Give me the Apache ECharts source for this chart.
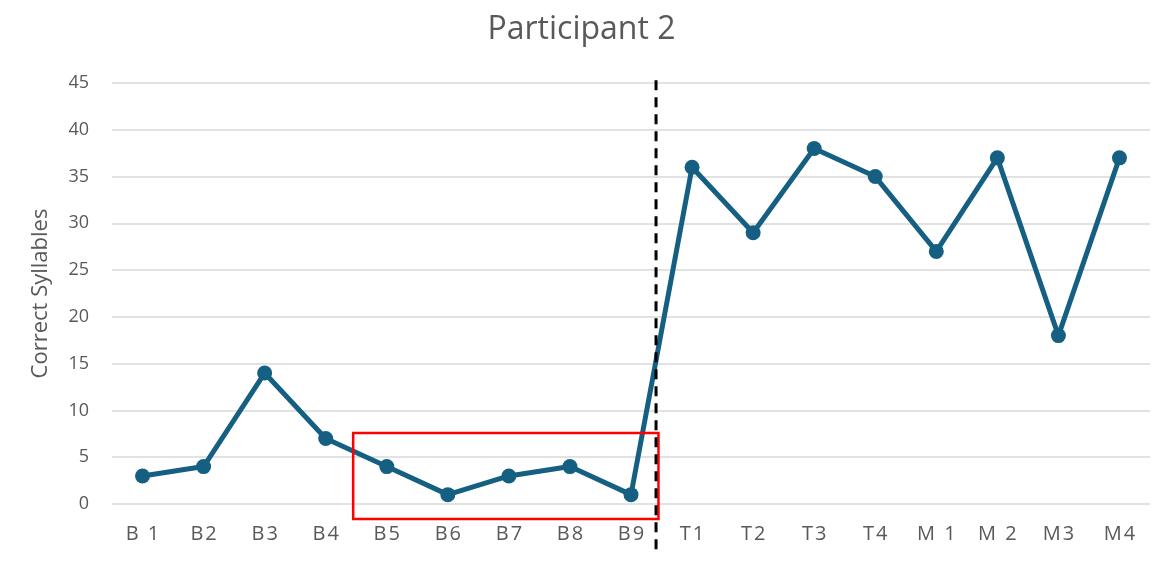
<!DOCTYPE html>
<html>
<head>
<meta charset="utf-8">
<script src="https://cdn.jsdelivr.net/npm/echarts@6/dist/echarts.min.js"></script>
<style>
  html, body { margin: 0; padding: 0; background: #fff; }
  #chart { width: 1163px; height: 563px; }
</style>
</head>
<body>
<div id="chart"></div>
<script>
// Session labels: baseline (B), treatment (T), maintenance (M)
const sessions = ['B 1', 'B2', 'B3', 'B4', 'B5', 'B6', 'B7', 'B8', 'B9',
                  'T1', 'T2', 'T3', 'T4', 'M 1', 'M 2', 'M3', 'M4'];
// Correct syllables per session
const correctSyllables = [3, 4, 14, 7, 4, 1, 3, 4, 1, 36, 29, 38, 35, 27, 37, 18, 37];
// Y axis ticks
const yTicks = { min: 0, max: 45, interval: 5 };

// Phase change line (fractional category index, value range) and highlighted baseline span
const phaseLine = { x: 8.41, yFrom: 45.3, yTo: -5.2 };
const highlightBox = { xFrom: 3.45, xTo: 8.45, yFrom: 7.6, yTo: -1.6 };

const FONT = '"Open Sans", Roboto, sans-serif';
const TEXT = '#595959';
const LINE = '#156082';

const chart = echarts.init(document.getElementById('chart'));
chart.setOption({
  animation: false,
  backgroundColor: '#ffffff',
  title: {
    text: 'Participant 2',
    left: 'center',
    top: 9,
    textStyle: { fontFamily: FONT, fontSize: 32, fontWeight: 'normal', color: TEXT }
  },
  grid: { left: 112, right: 13, top: 83, bottom: 59 },
  xAxis: {
    type: 'category',
    data: sessions,
    boundaryGap: true,
    axisLine: { show: false },
    axisTick: { show: false },
    axisLabel: {
      color: TEXT, fontFamily: FONT, fontSize: 20, margin: 20,
      // spread the characters slightly for a wider label
      formatter: (v) => v.split('').join('\u200A')
    }
  },
  yAxis: {
    type: 'value',
    min: yTicks.min,
    max: yTicks.max,
    interval: yTicks.interval,
    name: 'Correct Syllables',
    nameLocation: 'middle',
    nameGap: 60,
    nameRotate: 90,
    nameTextStyle: { color: TEXT, fontFamily: FONT, fontSize: 22 },
    axisLine: { show: false },
    axisTick: { show: false },
    axisLabel: { color: TEXT, fontFamily: FONT, fontSize: 18, margin: 23 },
    splitLine: { lineStyle: { color: '#d9d9d9', width: 1.5 } }
  },
  series: [{
    type: 'line',
    data: correctSyllables,
    symbol: 'circle',
    symbolSize: 15,
    lineStyle: { color: LINE, width: 5 },
    itemStyle: { color: LINE },
    z: 3
  }]
});

// Pixel position of a fractional category index and a value, interpolated
// between the two neighbouring category centres on the chart's own axes
function toPx(x, y) {
  const i = Math.floor(x);
  const f = x - i;
  const a = chart.convertToPixel({ gridIndex: 0 }, [i, y]);
  const b = chart.convertToPixel({ gridIndex: 0 }, [i + 1, y]);
  return [a[0] + (b[0] - a[0]) * f, a[1]];
}

function drawAnnotations() {
  const p1 = toPx(phaseLine.x, phaseLine.yFrom);
  const p2 = toPx(phaseLine.x, phaseLine.yTo);
  const b1 = toPx(highlightBox.xFrom, highlightBox.yFrom);
  const b2 = toPx(highlightBox.xTo, highlightBox.yTo);
  chart.setOption({
    graphic: [
      {
        type: 'rect',
        shape: { x: b1[0], y: b1[1], width: b2[0] - b1[0], height: b2[1] - b1[1] },
        style: { fill: 'none', stroke: '#ff0000', lineWidth: 2.5 },
        z: 10
      },
      {
        type: 'line',
        shape: { x1: p1[0], y1: p1[1], x2: p2[0], y2: p2[1] },
        style: { stroke: '#000000', lineWidth: 3, lineDash: [10, 7] },
        z: 11
      }
    ]
  });
}
drawAnnotations();
</script>
</body>
</html>
